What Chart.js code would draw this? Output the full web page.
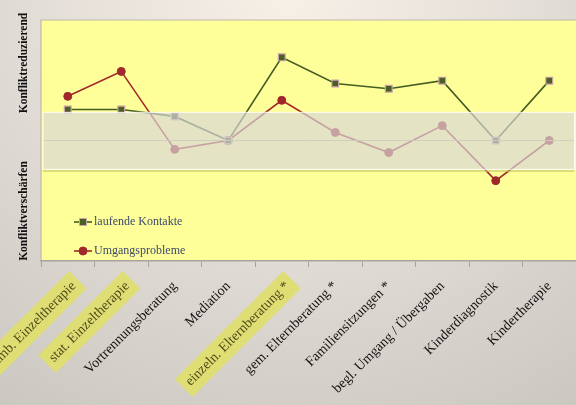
<!DOCTYPE html>
<html>
<head>
<meta charset="utf-8">
<script src="https://cdn.jsdelivr.net/npm/chart.js@4/dist/chart.umd.min.js"></script>
<style>
  html, body { margin: 0; padding: 0; }
  body {
    width: 576px; height: 405px; overflow: hidden;
    background: radial-gradient(ellipse 90% 120% at 50% 0%, #f7f0e7 0%, #e4dfd8 45%, #cbc7c1 100%);
  }
  #wrap { position: relative; width: 576px; height: 405px; }
</style>
</head>
<body>
<div id="wrap"><canvas id="chart" width="576" height="405"></canvas></div>
<script>
const categories = [
  "amb. Einzeltherapie", "stat. Einzeltherapie", "Vortrennungsberatung", "Mediation",
  "einzeln. Elternberatung *", "gem. Elternberatung *", "Familiensitzungen *",
  "begl. Umgang / Übergaben", "Kinderdiagnostik", "Kindertherapie",
];
const highlighted = [true, true, false, false, true, false, false, false, false, false];
const laufendeKontakte = [0.77, 0.77, 0.6, 0, 2.07, 1.42, 1.29, 1.49, 0, 1.49];
const umgangsprobleme = [1.1, 1.72, -0.22, 0, 1.0, 0.2, -0.3, 0.37, -1.0, 0];
const bandRange = [-0.72, 0.7];
const yTitles = ["Konfliktreduzierend", "Konfliktverschärfen"];

const SERIF = "'Liberation Serif', 'DejaVu Serif', serif";

// Plotfläche gelb + Rahmen
const plotBg = {
  id: "plotBg",
  beforeDraw(chart) {
    const { ctx, chartArea: a } = chart;
    ctx.save();
    ctx.fillStyle = "#ffff99";
    ctx.fillRect(a.left, a.top, a.right - a.left, a.bottom - a.top);
    ctx.strokeStyle = "#bdb9ab";
    ctx.lineWidth = 1.2;
    ctx.beginPath();
    ctx.moveTo(a.left, a.bottom);
    ctx.lineTo(a.left, a.top);
    ctx.lineTo(a.right, a.top);
    ctx.stroke();
    ctx.restore();
  },
};

// halbtransparentes Band über den Linien, Legende, Achsentitel
const overlay = {
  id: "overlay",
  afterDatasetsDraw(chart) {
    const { ctx, chartArea: a, scales: { y } } = chart;
    const top = y.getPixelForValue(bandRange[1]);
    const bot = y.getPixelForValue(bandRange[0]);
    const mid = y.getPixelForValue(0);
    const l = a.left + 2, r = a.right - 1.5;
    ctx.save();
    ctx.fillStyle = "rgba(216,216,216,0.69)";
    ctx.fillRect(l, top, r - l, bot - top);
    ctx.strokeStyle = "rgba(205,205,190,0.9)";
    ctx.lineWidth = 1;
    ctx.beginPath();
    ctx.moveTo(l, mid); ctx.lineTo(r, mid);
    ctx.stroke();
    ctx.strokeStyle = "rgba(255,255,255,0.7)";
    ctx.lineWidth = 1.2;
    ctx.strokeRect(l, top, r - l, bot - top);
    ctx.strokeStyle = "rgba(200,195,100,0.8)";
    ctx.lineWidth = 1.5;
    ctx.beginPath();
    ctx.moveTo(l, bot + 1.5); ctx.lineTo(r, bot + 1.5);
    ctx.stroke();

    // Legende
    const items = chart.data.datasets;
    const lx = a.left + 33;
    const ys = [a.top + 202, a.top + 231];
    items.forEach((ds, i) => {
      const yy = ys[i];
      ctx.strokeStyle = ds.borderColor;
      ctx.lineWidth = 1.6;
      ctx.beginPath();
      ctx.moveTo(lx, yy); ctx.lineTo(lx + 18, yy);
      ctx.stroke();
      ctx.fillStyle = ds.pointBackgroundColor;
      ctx.strokeStyle = ds.pointBorderColor;
      ctx.lineWidth = 1;
      ctx.beginPath();
      if (ds.pointStyle === "rect") {
        ctx.rect(lx + 9 - 3.5, yy - 3.5, 7, 7);
      } else {
        ctx.arc(lx + 9, yy, 4, 0, Math.PI * 2);
      }
      ctx.fill();
      ctx.stroke();
      ctx.fillStyle = "#3d4a6c";
      ctx.font = "12px " + SERIF;
      ctx.textBaseline = "middle";
      ctx.textAlign = "left";
      ctx.fillText(ds.label, lx + 20, yy);
    });
    ctx.restore();
  },
  afterDraw(chart) {
    const { ctx, chartArea: a } = chart;
    ctx.save();
    ctx.fillStyle = "#111";
    ctx.font = "bold 11.5px " + SERIF;
    ctx.textAlign = "center";
    ctx.textBaseline = "middle";
    [[yTitles[0], a.top + 43], [yTitles[1], a.top + 191]].forEach(([t, cy]) => {
      ctx.save();
      ctx.translate(a.left - 17, cy);
      ctx.rotate(-Math.PI / 2);
      ctx.fillText(t, 0, 0);
      ctx.restore();
    });
    ctx.restore();
  },
};

new Chart(document.getElementById("chart"), {
  type: "line",
  data: {
    labels: categories,
    datasets: [
      {
        label: "laufende Kontakte",
        data: laufendeKontakte,
        borderColor: "#435d22",
        borderWidth: 1.6,
        pointStyle: "rect",
        pointRadius: 4.8,
        pointBackgroundColor: "#4b5e23",
        pointBorderColor: "#c9a3a8",
        pointBorderWidth: 1.2,
        tension: 0,
      },
      {
        label: "Umgangsprobleme",
        data: umgangsprobleme,
        borderColor: "#a3292c",
        borderWidth: 1.6,
        pointStyle: "circle",
        pointRadius: 4,
        pointBackgroundColor: "#a0282a",
        pointBorderColor: "#a0282a",
        pointBorderWidth: 1,
        tension: 0,
      },
    ],
  },
  options: {
    responsive: false,
    animation: false,
    layout: { autoPadding: false, padding: { left: 41, top: 20, right: 0, bottom: 0 } },
    plugins: { legend: { display: false }, tooltip: { enabled: false } },
    scales: {
      x: {
        offset: true,
        grid: { display: true, drawOnChartArea: false, offset: true, tickLength: 6, color: "#a8a49c" },
        border: { display: true, color: "#a8a49c", width: 1.5 },
        ticks: {
          autoSkip: false,
          minRotation: 45,
          maxRotation: 45,
          padding: 11,
          font: { family: SERIF, size: 14 },
          color: (c) => (highlighted[c.index] ? "#4f4d18" : "#111"),
          showLabelBackdrop: (c) => highlighted[c.index],
          backdropColor: "rgba(222,222,112,0.95)",
          backdropPadding: { top: 4, bottom: 4, left: 6, right: 6 },
        },
        afterFit: (s) => { s.height = 144; s.paddingLeft = 0; s.paddingRight = 0; },
      },
      y: {
        display: false,
        min: -3,
        max: 3,
      },
    },
  },
  plugins: [plotBg, overlay],
});
</script>
</body>
</html>
